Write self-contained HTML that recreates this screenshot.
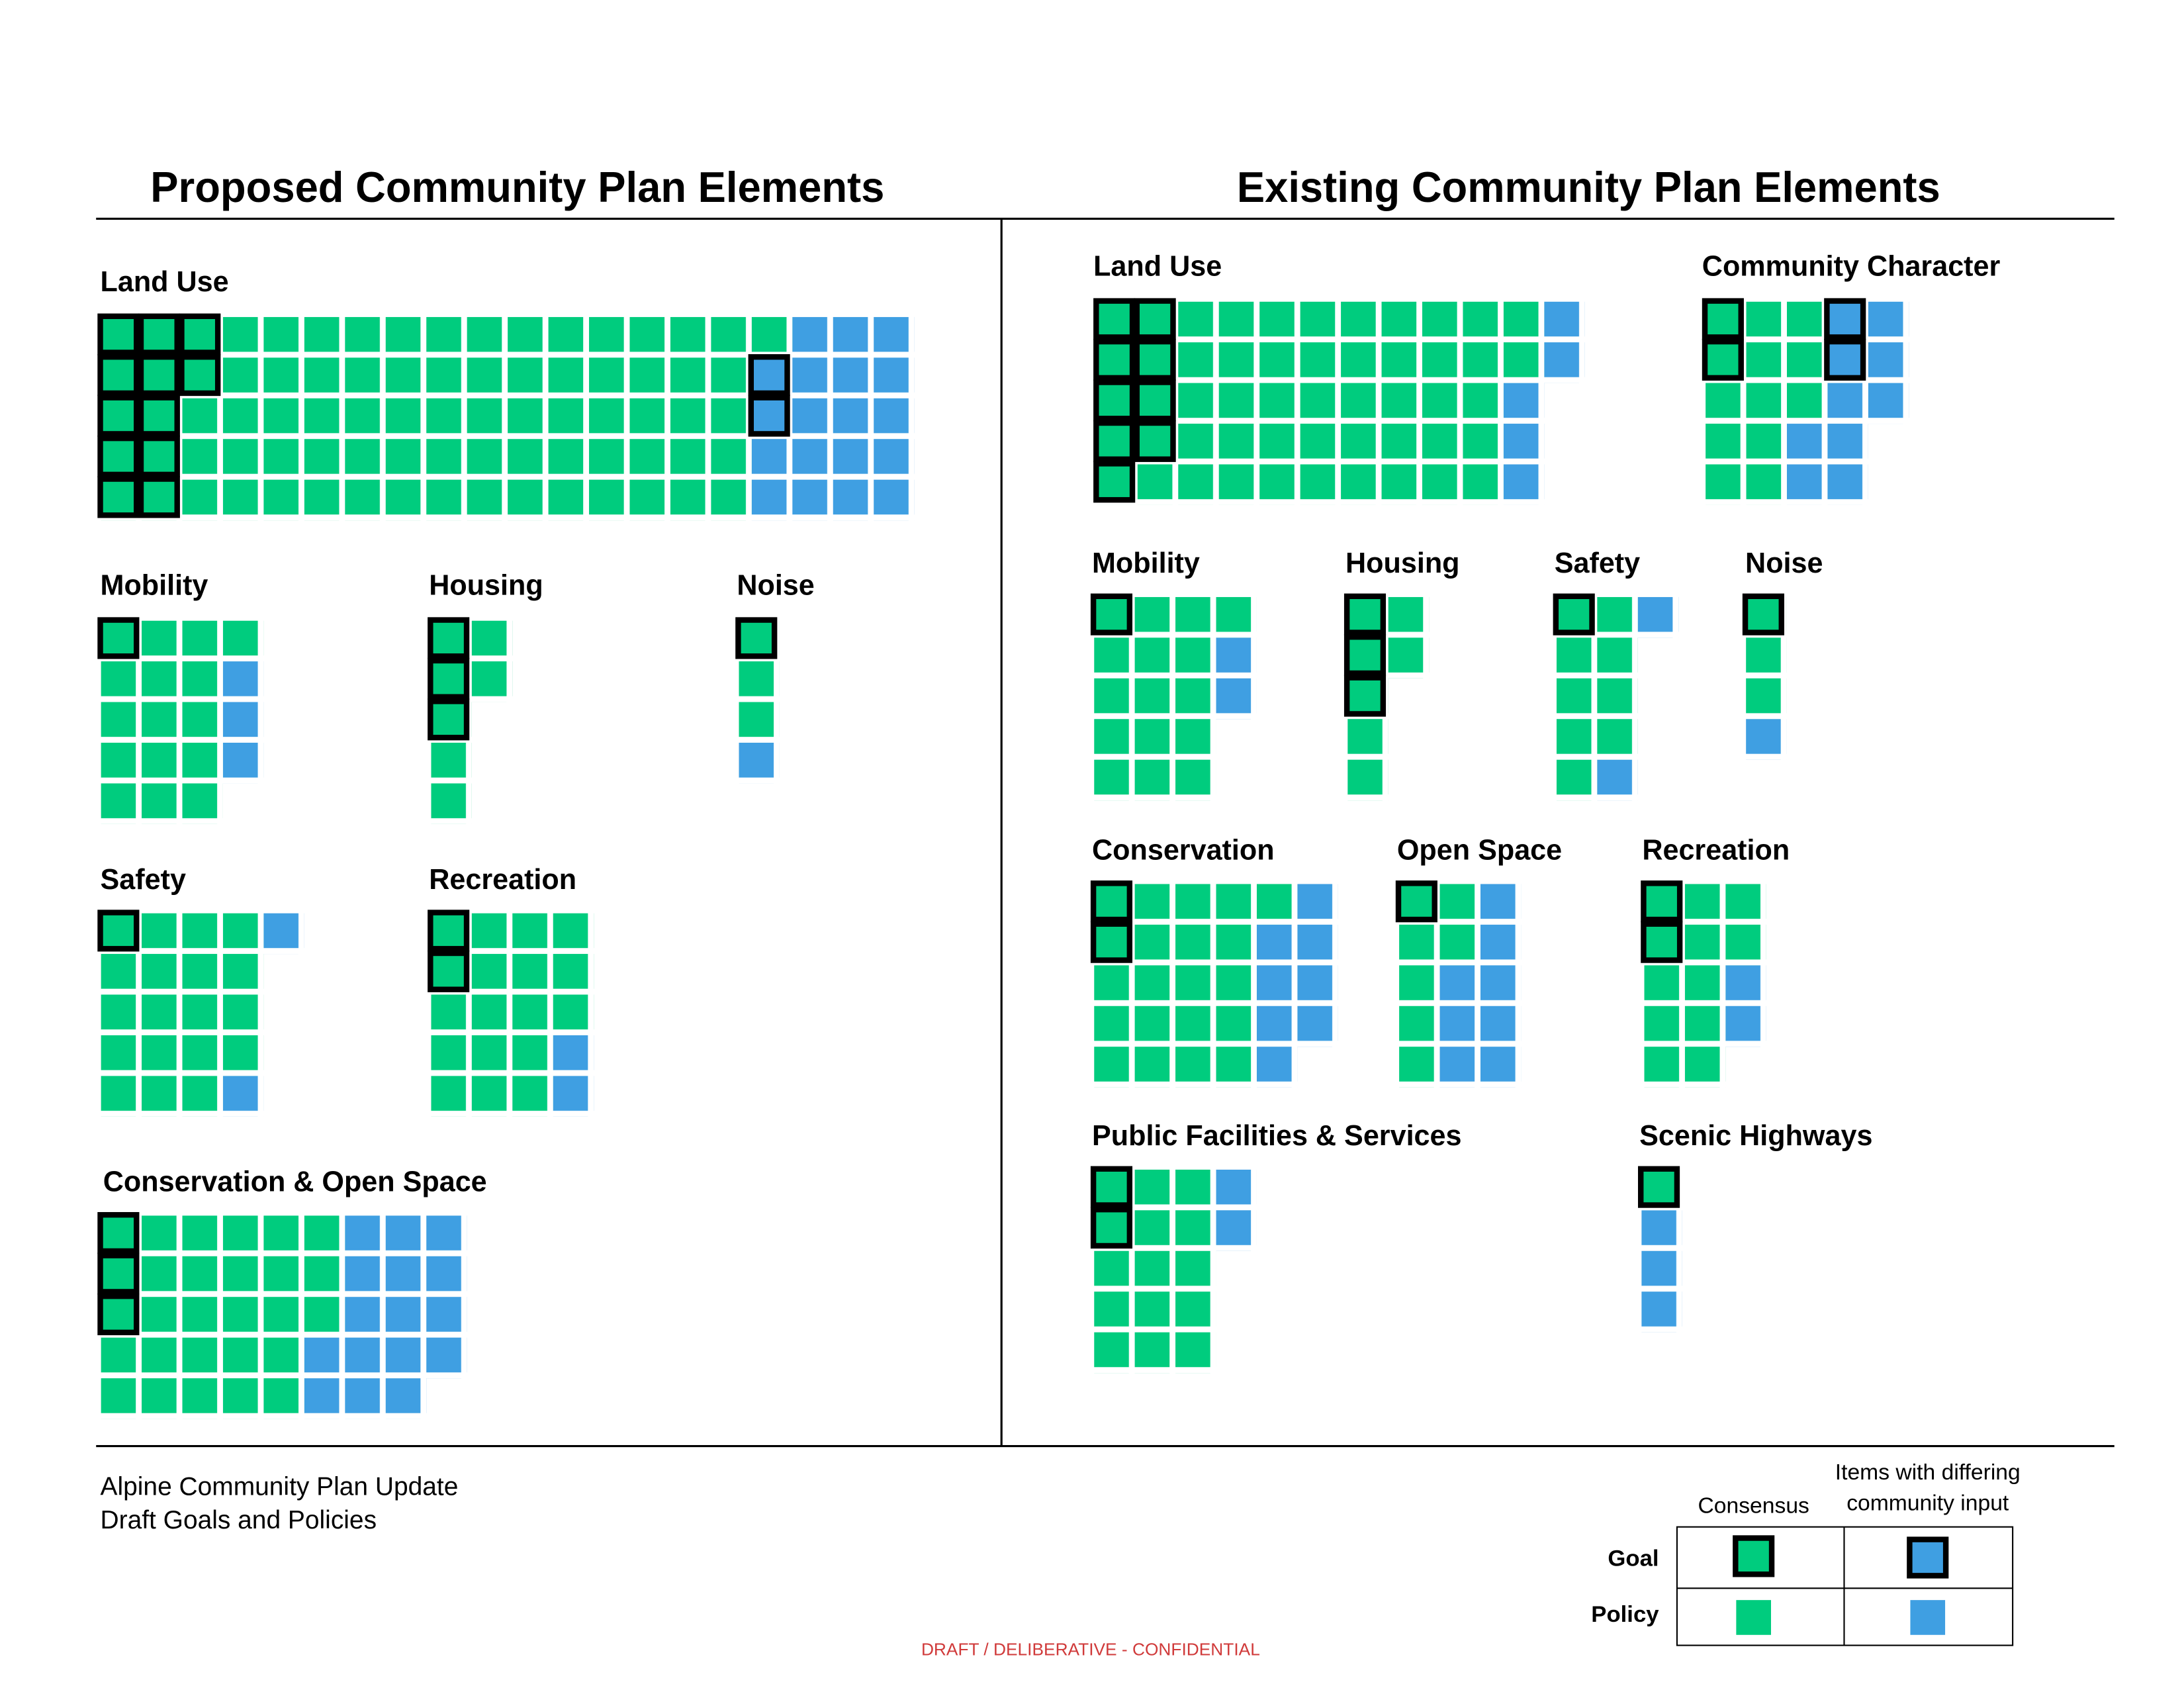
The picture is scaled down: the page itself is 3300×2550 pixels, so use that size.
<!DOCTYPE html>
<html><head><meta charset="utf-8"><style>html,body{margin:0;padding:0;background:#fff}svg{display:block}text{font-family:"Liberation Sans",Arial,sans-serif}</style></head><body>
<svg width="3300" height="2550" viewBox="0 0 1568 1211.6" xmlns="http://www.w3.org/2000/svg" xmlns:xlink="http://www.w3.org/1999/xlink">
<defs>
<pattern id="pg" patternUnits="userSpaceOnUse" width="29.2" height="29.2"><rect width="25" height="25" fill="#00CC7E"/></pattern>
<pattern id="pb" patternUnits="userSpaceOnUse" width="29.2" height="29.2"><rect width="25" height="25" fill="#3F9FE2"/></pattern>
<rect id="gg" x="-0.5" y="-0.5" width="26" height="26" fill="#00CC7E" stroke="#000" stroke-width="4"/>
<rect id="gb" x="-0.5" y="-0.5" width="26" height="26" fill="#3F9FE2" stroke="#000" stroke-width="4"/>
</defs>
<rect width="1568" height="1212" fill="#fff"/>
<g fill="#000" font-weight="bold">
<text x="108" y="145" font-size="31" textLength="527" lengthAdjust="spacingAndGlyphs">Proposed Community Plan Elements</text>
<text x="888" y="145" font-size="31" textLength="505" lengthAdjust="spacingAndGlyphs">Existing Community Plan Elements</text>
<g font-size="20.5">
<text x="72" y="209">Land Use</text>
<text x="72" y="427">Mobility</text>
<text x="308" y="427">Housing</text>
<text x="529" y="427">Noise</text>
<text x="72" y="638">Safety</text>
<text x="308" y="638">Recreation</text>
<text x="74" y="855">Conservation &amp; Open Space</text>
<text x="785" y="198">Land Use</text>
<text x="1222" y="198">Community Character</text>
<text x="784" y="411">Mobility</text>
<text x="966" y="411">Housing</text>
<text x="1116" y="411">Safety</text>
<text x="1253" y="411">Noise</text>
<text x="784" y="617">Conservation</text>
<text x="1003" y="617">Open Space</text>
<text x="1179" y="617">Recreation</text>
<text x="784" y="822">Public Facilities &amp; Services</text>
<text x="1177" y="822">Scenic Highways</text>
</g>
<text x="1191" y="1124" font-size="16.5" text-anchor="end">Goal</text>
<text x="1191" y="1164" font-size="16.5" text-anchor="end">Policy</text>
</g>
<g stroke="#000" stroke-width="1.5">
<line x1="69" y1="157" x2="1518" y2="157"/>
<line x1="719" y1="157" x2="719" y2="1038"/>
<line x1="69" y1="1038" x2="1518" y2="1038"/>
</g>
<text x="72" y="1073" font-size="18.5">Alpine Community Plan Update</text>
<text x="72" y="1097" font-size="18.5">Draft Goals and Policies</text>
<text x="1259" y="1086" font-size="16" text-anchor="middle">Consensus</text>
<text x="1384" y="1062" font-size="16" text-anchor="middle">Items with differing</text>
<text x="1384" y="1084" font-size="16" text-anchor="middle">community input</text>
<text x="783" y="1188" font-size="12.5" text-anchor="middle" fill="#D03A3A">DRAFT / DELIBERATIVE - CONFIDENTIAL</text>

<g fill="none" stroke="#000" stroke-width="1">
<rect x="1204" y="1096" width="241" height="85"/>
<line x1="1324" y1="1096" x2="1324" y2="1181"/>
<line x1="1204" y1="1140" x2="1445" y2="1140"/>
</g>
<use xlink:href="#gg" x="1246.5" y="1104.5"/>
<use xlink:href="#gb" x="1371.5" y="1105.5"/>
<rect x="1246.5" y="1148.5" width="25" height="25" fill="#00CC7E"/>
<rect x="1371.5" y="1148.5" width="25" height="25" fill="#3F9FE2"/>

<g transform="translate(72.5,227.5)">
<rect x="0" y="0" width="467.2" height="146" fill="url(#pg)"/>
<rect x="467.2" y="0" width="29.2" height="29.2" fill="url(#pg)"/>
<rect x="496.4" y="0" width="87.6" height="146" fill="url(#pb)"/>
<rect x="467.2" y="29.2" width="29.2" height="116.8" fill="url(#pb)"/>
<use xlink:href="#gg" x="0" y="0"/><use xlink:href="#gg" x="29.2" y="0"/><use xlink:href="#gg" x="58.4" y="0"/>
<use xlink:href="#gg" x="0" y="29.2"/><use xlink:href="#gg" x="29.2" y="29.2"/><use xlink:href="#gg" x="58.4" y="29.2"/>
<use xlink:href="#gg" x="0" y="58.4"/><use xlink:href="#gg" x="29.2" y="58.4"/>
<use xlink:href="#gg" x="0" y="87.6"/><use xlink:href="#gg" x="29.2" y="87.6"/>
<use xlink:href="#gg" x="0" y="116.8"/><use xlink:href="#gg" x="29.2" y="116.8"/>
<use xlink:href="#gb" x="467.2" y="29.2"/><use xlink:href="#gb" x="467.2" y="58.4"/>
</g>
<g transform="translate(72.5,445.5)">
<rect width="87.6" height="146" fill="url(#pg)"/>
<rect x="87.6" width="29.2" height="29.2" fill="url(#pg)"/>
<rect x="87.6" y="29.2" width="29.2" height="87.6" fill="url(#pb)"/>
<use xlink:href="#gg"/>
</g>
<g transform="translate(309.5,445.5)">
<rect width="29.2" height="146" fill="url(#pg)"/>
<rect x="29.2" width="29.2" height="58.4" fill="url(#pg)"/>
<use xlink:href="#gg"/><use xlink:href="#gg" y="29.2"/><use xlink:href="#gg" y="58.4"/>
</g>
<g transform="translate(530.5,445.5)">
<rect width="29.2" height="87.6" fill="url(#pg)"/>
<rect y="87.6" width="29.2" height="29.2" fill="url(#pb)"/>
<use xlink:href="#gg"/>
</g>
<g transform="translate(72.5,655.5)">
<rect width="116.8" height="116.8" fill="url(#pg)"/>
<rect y="116.8" width="87.6" height="29.2" fill="url(#pg)"/>
<rect x="87.6" y="116.8" width="29.2" height="29.2" fill="url(#pb)"/>
<rect x="116.8" width="29.2" height="29.2" fill="url(#pb)"/>
<use xlink:href="#gg"/>
</g>
<g transform="translate(309.5,655.5)">
<rect width="116.8" height="87.6" fill="url(#pg)"/>
<rect y="87.6" width="87.6" height="58.4" fill="url(#pg)"/>
<rect x="87.6" y="87.6" width="29.2" height="58.4" fill="url(#pb)"/>
<use xlink:href="#gg"/><use xlink:href="#gg" y="29.2"/>
</g>
<g transform="translate(72.5,872.5)">
<rect width="175.2" height="87.6" fill="url(#pg)"/>
<rect x="175.2" width="87.6" height="116.8" fill="url(#pb)"/>
<rect y="87.6" width="146" height="58.4" fill="url(#pg)"/>
<rect x="146" y="87.6" width="29.2" height="58.4" fill="url(#pb)"/>
<rect x="175.2" y="116.8" width="58.4" height="29.2" fill="url(#pb)"/>
<use xlink:href="#gg"/><use xlink:href="#gg" y="29.2"/><use xlink:href="#gg" y="58.4"/>
</g>

<g transform="translate(787.5,216.5)">
<rect width="292" height="146" fill="url(#pg)"/>
<rect x="292" width="29.2" height="58.4" fill="url(#pg)"/>
<rect x="321.2" width="29.2" height="58.4" fill="url(#pb)"/>
<rect x="292" y="58.4" width="29.2" height="87.6" fill="url(#pb)"/>
<use xlink:href="#gg"/><use xlink:href="#gg" x="29.2"/>
<use xlink:href="#gg" y="29.2"/><use xlink:href="#gg" x="29.2" y="29.2"/>
<use xlink:href="#gg" y="58.4"/><use xlink:href="#gg" x="29.2" y="58.4"/>
<use xlink:href="#gg" y="87.6"/><use xlink:href="#gg" x="29.2" y="87.6"/>
<use xlink:href="#gg" y="116.8"/>
</g>
<g transform="translate(1224.5,216.5)">
<rect width="58.4" height="146" fill="url(#pg)"/>
<rect x="58.4" width="29.2" height="87.6" fill="url(#pg)"/>
<rect x="58.4" y="87.6" width="29.2" height="58.4" fill="url(#pb)"/>
<rect x="87.6" width="29.2" height="146" fill="url(#pb)"/>
<rect x="116.8" width="29.2" height="87.6" fill="url(#pb)"/>
<use xlink:href="#gg"/><use xlink:href="#gg" y="29.2"/>
<use xlink:href="#gb" x="87.6"/><use xlink:href="#gb" x="87.6" y="29.2"/>
</g>
<g transform="translate(785.5,428.5)">
<rect width="87.6" height="146" fill="url(#pg)"/>
<rect x="87.6" width="29.2" height="29.2" fill="url(#pg)"/>
<rect x="87.6" y="29.2" width="29.2" height="58.4" fill="url(#pb)"/>
<use xlink:href="#gg"/>
</g>
<g transform="translate(967.5,428.5)">
<rect width="29.2" height="146" fill="url(#pg)"/>
<rect x="29.2" width="29.2" height="58.4" fill="url(#pg)"/>
<use xlink:href="#gg"/><use xlink:href="#gg" y="29.2"/><use xlink:href="#gg" y="58.4"/>
</g>
<g transform="translate(1117.5,428.5)">
<rect width="58.4" height="116.8" fill="url(#pg)"/>
<rect y="116.8" width="29.2" height="29.2" fill="url(#pg)"/>
<rect x="29.2" y="116.8" width="29.2" height="29.2" fill="url(#pb)"/>
<rect x="58.4" width="29.2" height="29.2" fill="url(#pb)"/>
<use xlink:href="#gg"/>
</g>
<g transform="translate(1253.5,428.5)">
<rect width="29.2" height="87.6" fill="url(#pg)"/>
<rect y="87.6" width="29.2" height="29.2" fill="url(#pb)"/>
<use xlink:href="#gg"/>
</g>
<g transform="translate(785.5,634.5)">
<rect width="116.8" height="146" fill="url(#pg)"/>
<rect x="116.8" width="29.2" height="29.2" fill="url(#pg)"/>
<rect x="116.8" y="29.2" width="29.2" height="116.8" fill="url(#pb)"/>
<rect x="146" width="29.2" height="116.8" fill="url(#pb)"/>
<use xlink:href="#gg"/><use xlink:href="#gg" y="29.2"/>
</g>
<g transform="translate(1004.5,634.5)">
<rect width="29.2" height="146" fill="url(#pg)"/>
<rect x="29.2" width="29.2" height="58.4" fill="url(#pg)"/>
<rect x="29.2" y="58.4" width="29.2" height="87.6" fill="url(#pb)"/>
<rect x="58.4" width="29.2" height="146" fill="url(#pb)"/>
<use xlink:href="#gg"/>
</g>
<g transform="translate(1180.5,634.5)">
<rect width="58.4" height="146" fill="url(#pg)"/>
<rect x="58.4" width="29.2" height="58.4" fill="url(#pg)"/>
<rect x="58.4" y="58.4" width="29.2" height="58.4" fill="url(#pb)"/>
<use xlink:href="#gg"/><use xlink:href="#gg" y="29.2"/>
</g>
<g transform="translate(785.5,839.5)">
<rect width="87.6" height="146" fill="url(#pg)"/>
<rect x="87.6" width="29.2" height="58.4" fill="url(#pb)"/>
<use xlink:href="#gg"/><use xlink:href="#gg" y="29.2"/>
</g>
<g transform="translate(1178.5,839.5)">
<rect y="29.2" width="29.2" height="87.6" fill="url(#pb)"/>
<use xlink:href="#gg"/>
</g>
</svg>
</body></html>
